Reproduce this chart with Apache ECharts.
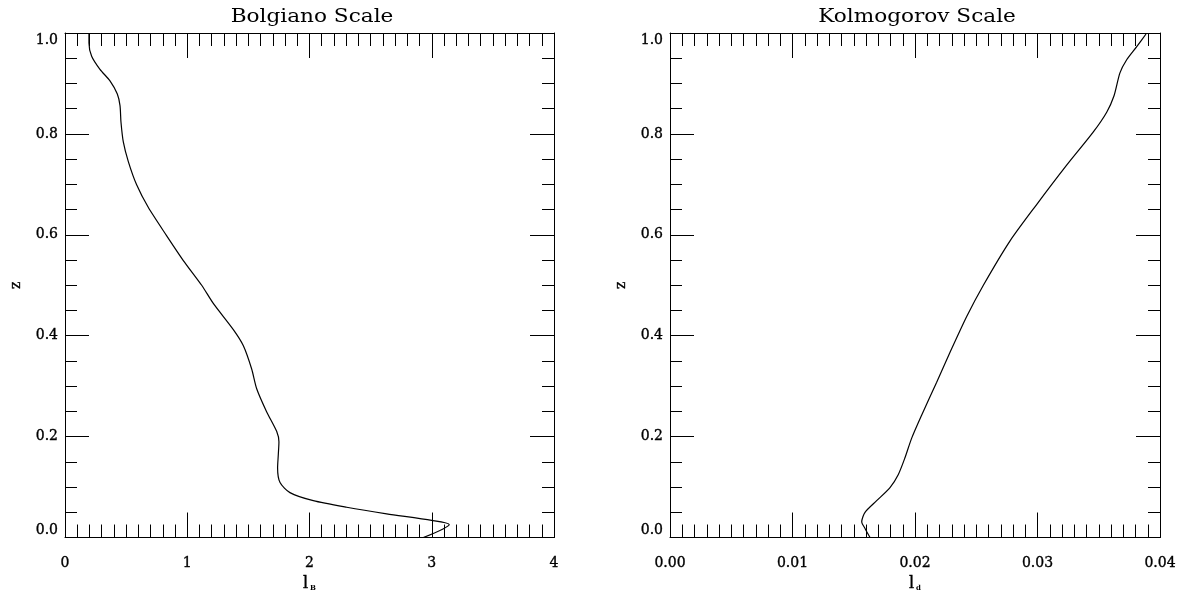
<!DOCTYPE html>
<html>
<head>
<meta charset="utf-8">
<script src="https://cdn.jsdelivr.net/npm/echarts@6/dist/echarts.min.js"></script>
<style>
html,body{margin:0;padding:0;background:#fff;}
#chart{width:1183px;height:597px;}
</style>
</head>
<body>
<div id="chart"></div>
<script>
// Bolgiano scale profile (l_B vs z)
const bolgianoZ = [1.000, 0.980, 0.954, 0.928, 0.905, 0.879, 0.856, 0.823, 0.784, 0.745, 0.699, 0.654, 0.598, 0.549, 0.500, 0.464, 0.412, 0.380, 0.334, 0.295, 0.249, 0.210, 0.190, 0.165, 0.138, 0.109, 0.089, 0.073, 0.060, 0.047, 0.034, 0.026, 0.000];
const bolgianoL = [0.196, 0.196, 0.218, 0.286, 0.368, 0.428, 0.450, 0.458, 0.477, 0.518, 0.586, 0.682, 0.832, 0.968, 1.118, 1.213, 1.377, 1.459, 1.527, 1.568, 1.650, 1.732, 1.750, 1.745, 1.739, 1.759, 1.840, 2.031, 2.304, 2.631, 2.999, 3.143, 2.931];
// Kolmogorov scale profile (l_d vs z)
const kolmogorovZ = [0.000, 0.018, 0.031, 0.050, 0.073, 0.099, 0.125, 0.158, 0.197, 0.243, 0.308, 0.367, 0.438, 0.500, 0.588, 0.660, 0.738, 0.804, 0.843, 0.875, 0.921, 0.947, 0.973, 0.998];
const kolmogorovL = [0.01633, 0.01592, 0.01565, 0.01592, 0.01687, 0.01796, 0.01864, 0.01918, 0.01973, 0.02055, 0.02177, 0.02286, 0.02422, 0.02558, 0.02776, 0.02993, 0.03238, 0.03456, 0.03565, 0.03624, 0.03673, 0.03728, 0.03810, 0.03886];
// Tick labels
const leftXTicks = ['0', '1', '2', '3', '4'];
const rightXTicks = ['0.00', '0.01', '0.02', '0.03', '0.04'];
const yTicks = ['0.0', '0.2', '0.4', '0.6', '0.8', '1.0'];
const titles = ['Bolgiano Scale', 'Kolmogorov Scale'];

const FONT = 'DejaVu Serif';
const BLACK = '#000';
const LABEL_STYLE = {fontFamily: FONT, fontSize: 14, color: BLACK, textBorderColor: BLACK, textBorderWidth: 0.35};

function xAxisDef(grid, pos, max, interval, labels) {
  return {
    type: 'value', gridIndex: grid, position: pos, min: 0, max: max, interval: interval,
    axisLine: {show: true, onZero: false, lineStyle: {color: BLACK, width: 1}},
    axisTick: {show: true, inside: true, length: 25, lineStyle: {color: BLACK, width: 1}},
    minorTick: {show: true, splitNumber: 10, length: 13, lineStyle: {color: BLACK, width: 1}},
    splitLine: {show: false},
    axisLabel: Object.assign({
      show: pos === 'bottom', margin: 19,
      formatter: function (v) { return labels[Math.round(v / interval)]; }
    }, LABEL_STYLE),
    name: pos === 'bottom' ? (grid === 0 ? '{a|l}{b|B}' : '{a|l}{b|d}') : '',
    nameLocation: 'middle', nameGap: 33,
    nameTextStyle: {
      color: BLACK, fontFamily: FONT,
      rich: {
        a: {fontSize: 16, fontFamily: FONT, color: BLACK, textBorderColor: BLACK, textBorderWidth: 0.4},
        b: {fontSize: 7, fontFamily: FONT, fontWeight: 'bold', color: BLACK, verticalAlign: 'bottom', padding: [0, 0, 0, 2]}
      }
    }
  };
}
function yAxisDef(grid, pos) {
  return {
    type: 'value', gridIndex: grid, position: pos, min: 0, max: 1, interval: 0.2,
    axisLine: {show: true, onZero: false, lineStyle: {color: BLACK, width: 1}},
    axisTick: {show: true, inside: true, length: 24, lineStyle: {color: BLACK, width: 1}},
    minorTick: {show: true, splitNumber: 4, length: 12, lineStyle: {color: BLACK, width: 1}},
    splitLine: {show: false},
    axisLabel: Object.assign({
      show: pos === 'left', margin: 7,
      verticalAlignMaxLabel: 'top',
      rich: {lo: Object.assign({padding: [0, 0, 14, 0]}, LABEL_STYLE)},
      formatter: function (v) {
        const t = yTicks[Math.round(v / 0.2)];
        return v === 0 ? '{lo|' + t + '}' : t;
      }
    }, LABEL_STYLE),
    name: pos === 'left' ? 'z' : '',
    nameLocation: 'middle', nameGap: 42,
    nameTextStyle: LABEL_STYLE
  };
}

const chart = echarts.init(document.getElementById('chart'), null, {renderer: 'canvas'});
chart.setOption({
  animation: false,
  backgroundColor: '#fff',
  graphic: [
    {type: 'text', x: 312, y: 17, scaleX: 1.2, z: 10,
     style: {text: titles[0], fontFamily: FONT, fontSize: 18, fill: BLACK, align: 'center', verticalAlign: 'middle'}},
    {type: 'text', x: 917, y: 17, scaleX: 1.2, z: 10,
     style: {text: titles[1], fontFamily: FONT, fontSize: 18, fill: BLACK, align: 'center', verticalAlign: 'middle'}}
  ],
  grid: [
    {left: 65, top: 33, width: 489, height: 511},
    {left: 670, top: 33, width: 490, height: 511}
  ],
  xAxis: [
    xAxisDef(0, 'bottom', 4, 1, leftXTicks),
    xAxisDef(0, 'top', 4, 1, leftXTicks),
    xAxisDef(1, 'bottom', 0.04, 0.01, rightXTicks),
    xAxisDef(1, 'top', 0.04, 0.01, rightXTicks)
  ],
  yAxis: [
    yAxisDef(0, 'left'),
    yAxisDef(0, 'right'),
    yAxisDef(1, 'left'),
    yAxisDef(1, 'right')
  ],
  series: [
    {type: 'line', xAxisIndex: 0, yAxisIndex: 0, showSymbol: false, symbol: 'none', smooth: 0.25,
     lineStyle: {color: BLACK, width: 1.2}, clip: false,
     data: bolgianoZ.map(function (z, i) { return [bolgianoL[i], z]; })},
    {type: 'line', xAxisIndex: 2, yAxisIndex: 2, showSymbol: false, symbol: 'none', smooth: 0.25,
     lineStyle: {color: BLACK, width: 1.2}, clip: false,
     data: kolmogorovZ.map(function (z, i) { return [kolmogorovL[i], z]; })}
  ]
});
</script>
</body>
</html>
